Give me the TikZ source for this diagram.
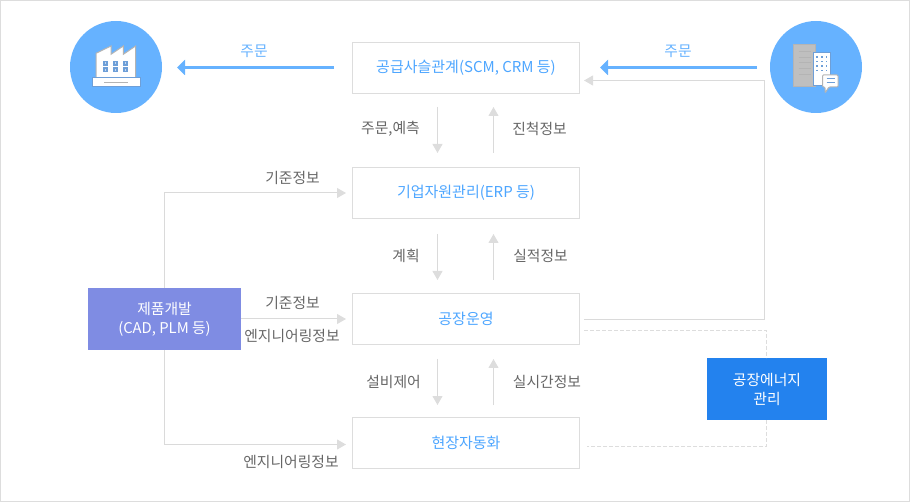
\documentclass[tikz,border=0pt]{standalone}
\usepackage{fontspec}
\setmainfont{Noto Sans CJK KR}
\usetikzlibrary{arrows.meta}
\definecolor{skyb}{HTML}{66B2FF}
\definecolor{boxedge}{HTML}{DDDDDD}
\definecolor{linegray}{HTML}{DADADA}
\definecolor{labelgray}{HTML}{666666}
\definecolor{boxtext}{HTML}{4DA6FF}
\definecolor{plmfill}{HTML}{7F8CE3}
\definecolor{energyfill}{HTML}{2382EE}
\definecolor{iconedge}{HTML}{B4B4B4}
\definecolor{iconblue}{HTML}{6E9FD8}
\newcommand{\lowerby}[1]{\raisebox{-1pt}{#1}}
\tikzset{
  x=1pt,y=-1pt,
  every node/.style={inner sep=0pt,outer sep=0pt,font=\fontsize{14.8}{19}\selectfont},
  sysbox/.style={draw=boxedge,line width=1pt,fill=white,minimum width=227pt,minimum height=51pt,text=boxtext,align=center,font=\fontsize{15}{19}\selectfont},
  lab/.style={text=labelgray,align=center},
  bluelab/.style={text=skyb,align=center},
  darkbox/.style={text=white,align=center},
  conn/.style={draw=linegray,line width=1pt},
  connarrow/.style={conn,-{Triangle[length=9pt,width=10pt,color=boxedge]}},
  dashconn/.style={draw=boxedge,line width=1pt,dash pattern=on 4pt off 2pt},
  bigarrow/.style={draw=skyb,fill=skyb,line width=3pt,-{Triangle[length=8pt,width=15pt,color=skyb]}},
  disc/.style={circle,fill=skyb,minimum size=92pt}
}
\begin{document}
\begin{tikzpicture}
\useasboundingbox (0,0) rectangle (910,502);
\draw[draw=boxedge,line width=1pt] (0.5,0.5) rectangle (909.5,501.5);

% main boxes
\node[sysbox] (scm) at (466,68) {\lowerby{공급사슬관계(SCM, CRM 등)}};
\node[sysbox] (erp) at (466,193) {\lowerby{기업자원관리(ERP 등)}};
\node[sysbox] (ops) at (466,319) {\lowerby{공장운영}};
\node[sysbox] (auto) at (466,443) {\lowerby{현장자동화}};
\node[minimum width=153pt,minimum height=62pt,fill=plmfill,darkbox] (plm) at (164.5,319) {\lowerby{제품개발}\\\lowerby{(CAD, PLM 등)}};
\node[minimum width=120pt,minimum height=62pt,fill=energyfill,darkbox] (energy) at (767,389) {\lowerby{공장에너지}\\\lowerby{관리}};

% discs
\node[disc] (factory) at (116,67) {};
\node[disc] (office) at (816,67) {};

% factory icon
\draw[fill=white,draw=iconedge,line width=1pt] (96,78) -- (96,53.3) -- (111,46) -- (111,54.3) -- (123.3,46) -- (123.3,54.3) -- (135.7,46) -- (135.7,78) -- cycle;
\foreach \cx in {105.5,115.5,125.5}{\foreach \cy in {63.3,70}{
  \fill[iconblue] (\cx-2.5,\cy-2.5) rectangle (\cx+2.5,\cy+2.5);
  \fill[white,opacity=.6] (\cx-.8,\cy-.8) rectangle (\cx+.8,\cy+.8);
}}
\draw[fill=white,draw=iconblue,line width=1pt] (92,78) rectangle (140.5,87);
\draw[iconedge,line width=1pt] (104,82.5) -- (128,82.5);

% office icon
\draw[fill=boxedge!85!black!95,draw=iconedge,line width=1pt] (793.5,44.5) rectangle (815.5,86.5);
\foreach \ly in {51.7,57.7,62.7,69,74.7}{\draw[iconedge,line width=1pt] (798.7,\ly) -- (810.7,\ly);}
\draw[fill=white,draw=iconblue,line width=1pt] (813.5,53) rectangle (830,86);
\foreach \cx in {817,821.7,826.3}{\foreach \cy in {57.3,61.7,66,70.7}{\fill[iconblue] (\cx-.8,\cy-.8) rectangle (\cx+.8,\cy+.8);}}
\draw[fill=white,draw=iconedge,line width=1pt,rounded corners=1pt] (822.5,75) -- (838,75) -- (838,87) -- (829,87) -- (825,93) -- (825,87) -- (822.5,87) -- cycle;
\draw[iconblue,line width=1pt] (826.7,78.7) -- (835,78.7) (826.7,82.7) -- (835,82.7);

% blue order arrows
\coordinate (orderL) at (334,67.5);
\coordinate (orderLend) at (177,67.5);
\coordinate (orderR) at (757,67.5);
\coordinate (orderRend) at (600,67.5);
\draw[bigarrow] (orderL) -- (orderLend);
\draw[bigarrow] (orderR) -- (orderRend);

% vertical arrows between the boxes
\draw[connarrow] (437.5,107) -- (437.5,153);
\draw[connarrow] (493.5,153) -- (493.5,107);
\draw[connarrow] (437.5,234) -- (437.5,280);
\draw[connarrow] (493.5,280) -- (493.5,234);
\draw[connarrow] (437.5,359) -- (437.5,405);
\draw[connarrow] (493.5,405) -- (493.5,359);

% plm connectors
\coordinate (plmUp) at (164.5,193);
\coordinate (plmDown) at (164.5,444.5);
\coordinate (erpIn) at (346,193);
\coordinate (opsIn) at (346,319);
\coordinate (autoIn) at (346,444.5);
\draw[connarrow] (plm.north -| plmUp) -- (plmUp) -- (erpIn);
\draw[connarrow] (plm.east |- opsIn) -- (opsIn);
\draw[connarrow] (plm.south -| plmDown) -- (plmDown) -- (autoIn);

% feedback to scm
\coordinate (fbStart) at (584,319.5);
\coordinate (fbC1) at (764.5,319.5);
\coordinate (fbC2) at (764.5,80.5);
\coordinate (fbEnd) at (584,80.5);
\draw[connarrow] (fbStart) -- (fbC1) -- (fbC2) -- (fbEnd);

% energy dashed links
\coordinate (enA) at (584,330.5);
\coordinate (enB) at (766.5,330.5);
\coordinate (enC) at (766.5,446.5);
\coordinate (enD) at (587,446.5);
\draw[dashconn] (enA) -- (enB) -- (energy.north -| enB);
\draw[dashconn] (energy.south -| enC) -- (enC) -- (enD);

% labels
\node[bluelab] (l1) at (254,51) {주문};
\node[bluelab] (l2) at (678,51) {주문};
\node[lab] (l3) at (390.5,129) {주문,예측};
\node[lab] (l4) at (539.5,129) {진척정보};
\node[lab] (l5) at (292.5,178) {기준정보};
\node[lab] (l6) at (406,256) {계획};
\node[lab] (l7) at (540.5,256) {실적정보};
\node[lab] (l8) at (292.5,303) {기준정보};
\node[lab] (l9) at (292,336) {엔지니어링정보};
\node[lab] (l10) at (393.5,382) {설비제어};
\node[lab] (l11) at (547,382) {실시간정보};
\node[lab] (l12) at (291,462) {엔지니어링정보};
\end{tikzpicture}
\end{document}
